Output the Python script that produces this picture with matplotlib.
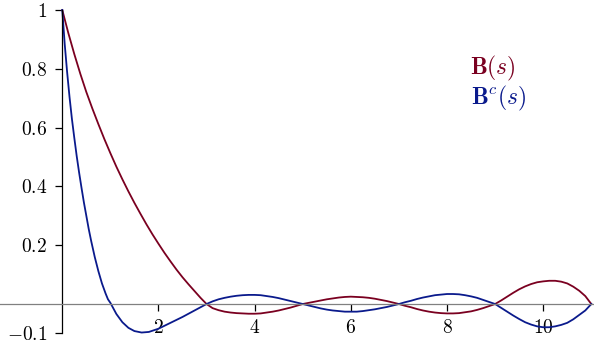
import numpy as np
import matplotlib
matplotlib.use("Agg")
import matplotlib.pyplot as plt
from matplotlib.ticker import FuncFormatter

plt.rcParams['mathtext.fontset'] = 'cm'
plt.rcParams['font.family'] = 'serif'
plt.rcParams['font.serif'] = ['cmr10', 'DejaVu Serif']

# values
# first part (0..3), sampled where each curve bends most
s_b_head = [0, 0.125, 0.25, 0.375, 0.5, 0.625, 0.75, 0.875, 1.0, 1.125, 1.25, 1.375,
            1.5, 1.625, 1.75, 1.875, 2.0, 2.125, 2.25, 2.375, 2.5, 2.625, 2.75, 2.875, 3.0]
b_head = [1.0, 0.922, 0.85, 0.783, 0.721, 0.665, 0.612, 0.561, 0.513, 0.467, 0.424, 0.383,
          0.344, 0.307, 0.271, 0.237, 0.205, 0.174, 0.145, 0.117, 0.091, 0.067, 0.044, 0.021, 0.0]

s_c_head = [0, 0.05, 0.1, 0.15, 0.2, 0.25, 0.3, 0.35, 0.4, 0.45, 0.5, 0.55, 0.6, 0.675,
            0.75, 0.825, 0.9, 0.95, 1.0, 1.125, 1.25, 1.375, 1.5, 1.65, 1.8, 2.0, 2.125,
            2.25, 2.375, 2.5, 2.625, 2.75, 2.875, 3.0]
c_head = [1.0, 0.885, 0.79, 0.705, 0.63, 0.565, 0.503, 0.447, 0.395, 0.345, 0.3, 0.255, 0.215, 0.16,
          0.112, 0.07, 0.036, 0.016, 0.004, -0.034, -0.062, -0.081, -0.092, -0.097, -0.095, -0.084, -0.074,
          -0.064, -0.054, -0.044, -0.033, -0.022, -0.011, 0.0]

# oscillating part (3..11), every 0.125
s_tail = np.arange(3.125, 11.001, 0.125)
b_tail = [-0.014, -0.021, -0.026, -0.029, -0.031, -0.032, -0.033, -0.033,
          -0.032, -0.029, -0.026, -0.022, -0.017, -0.012, -0.006, 0.0,
          0.004, 0.008, 0.012, 0.016, 0.019, 0.022, 0.024, 0.025,
          0.024, 0.023, 0.021, 0.018, 0.014, 0.01, 0.005, 0.0,
          -0.006, -0.011, -0.017, -0.022, -0.026, -0.029, -0.031, -0.032,
          -0.032, -0.031, -0.028, -0.025, -0.02, -0.014, -0.007, 0.0,
          0.012, 0.025, 0.038, 0.05, 0.06, 0.068, 0.074, 0.077,
          0.079, 0.079, 0.076, 0.07, 0.059, 0.045, 0.027, 0.0]
c_tail = [0.009, 0.016, 0.021, 0.025, 0.028, 0.030, 0.031, 0.031,
          0.030, 0.027, 0.024, 0.020, 0.015, 0.010, 0.005, 0.0,
          -0.005, -0.01, -0.015, -0.019, -0.022, -0.024, -0.026, -0.026,
          -0.026, -0.024, -0.021, -0.018, -0.014, -0.01, -0.005, 0.0,
          0.006, 0.011, 0.017, 0.022, 0.026, 0.030, 0.032, 0.034,
          0.034, 0.033, 0.030, 0.026, 0.021, 0.014, 0.007, 0.0,
          -0.013, -0.026, -0.039, -0.051, -0.062, -0.07, -0.076, -0.079,
          -0.079, -0.076, -0.071, -0.064, -0.052, -0.037, -0.022, 0.0]

xticks = [2, 4, 6, 8, 10]
yticks = [-0.1, 0.2, 0.4, 0.6, 0.8, 1]

red = '#7a0020'
blue = '#0a1a8c'

s_b = list(s_b_head) + list(s_tail)
b_vals = b_head + b_tail
s_c = list(s_c_head) + list(s_tail)
c_vals = c_head + c_tail

fig = plt.figure(figsize=(5.94, 3.44), dpi=100)
ax = fig.add_axes([0, 0, 1, 1])
ax.plot(s_b, b_vals, color=red, lw=1.3)
ax.plot(s_c, c_vals, color=blue, lw=1.3)

ax.set_xlim(-1.295, 11.056)
ax.set_ylim(-0.136, 1.034)

for side in ['top', 'right']:
    ax.spines[side].set_visible(False)
ax.spines['left'].set_position(('data', 0))
ax.spines['left'].set_bounds(-0.1, 1)
ax.spines['left'].set_color('black')
ax.spines['left'].set_linewidth(0.9)
ax.spines['bottom'].set_position(('data', 0))
ax.spines['bottom'].set_color('#808080')
ax.spines['bottom'].set_linewidth(0.9)

fmt = FuncFormatter(lambda v, p: r'$%g$' % v)
ax.set_xticks(xticks)
ax.set_yticks(yticks)
ax.xaxis.set_major_formatter(fmt)
ax.yaxis.set_major_formatter(fmt)
ax.tick_params(axis='both', direction='out', length=5, width=0.9, color='black',
               labelsize=14, pad=6)

ax.text(8.48, 0.80, r'$\mathbf{B}(s)$', color=red, fontsize=17, va='center', ha='left')
ax.text(8.5, 0.70, r'$\mathbf{B}^c(s)$', color=blue, fontsize=17, va='center', ha='left')

fig.savefig('out.png', dpi=100)
